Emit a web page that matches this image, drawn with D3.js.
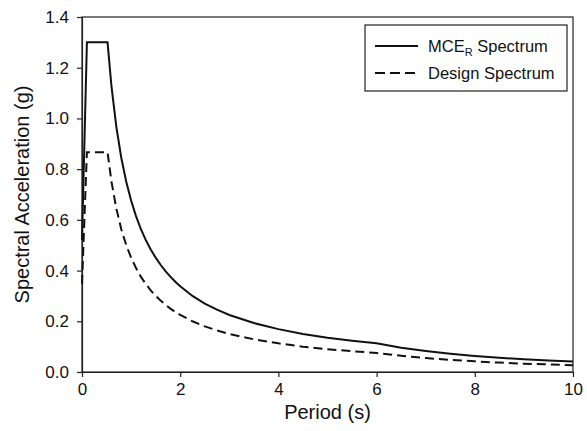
<!DOCTYPE html>
<html>
<head>
<meta charset="utf-8">
<script src="https://cdn.jsdelivr.net/npm/d3@7"></script>
<style>
  html, body { margin: 0; padding: 0; background: #fff; }
  svg { display: block; font-family: "Liberation Sans", Arial, Helvetica, sans-serif; }
</style>
</head>
<body>
<svg id="chart" width="587" height="431"></svg>
<script>
// Period (s)
const periods = [0, 0.1, 0.52, 0.6, 0.7, 0.8, 0.9, 1.0, 1.1, 1.2, 1.3, 1.4, 1.5, 1.6, 1.7, 1.8, 1.9, 2.0,
  2.25, 2.5, 2.75, 3.0, 3.5, 4.0, 4.5, 5.0, 5.5, 6.0, 6.5, 7.0, 7.5, 8.0, 8.5, 9.0, 9.5, 10];
// MCE_R spectrum (g)
const mceValues = [0.52, 1.30, 1.30, 1.127, 0.966, 0.845, 0.751, 0.676, 0.615, 0.563, 0.520, 0.483, 0.451, 0.423, 0.398, 0.376, 0.356, 0.338,
  0.300, 0.270, 0.246, 0.225, 0.193, 0.169, 0.150, 0.135, 0.123, 0.113, 0.096, 0.083, 0.072, 0.063, 0.056, 0.050, 0.045, 0.041];
// Design spectrum (g)
const designValues = [0.347, 0.867, 0.867, 0.751, 0.644, 0.563, 0.501, 0.451, 0.410, 0.375, 0.347, 0.322, 0.300, 0.282, 0.265, 0.250, 0.237, 0.225,
  0.200, 0.180, 0.164, 0.150, 0.129, 0.113, 0.100, 0.090, 0.082, 0.075, 0.064, 0.055, 0.048, 0.042, 0.037, 0.033, 0.030, 0.027];

const xTicks = [0, 2, 4, 6, 8, 10];
const yTicks = [0.0, 0.2, 0.4, 0.6, 0.8, 1.0, 1.2, 1.4];
const seriesNames = ["MCE", "Design Spectrum"];

const svg = d3.select("#chart");
const m = { left: 82, right: 573, top: 17, bottom: 372 };

const x = d3.scaleLinear().domain([0, 10]).range([m.left, m.right]);
const y = d3.scaleLinear().domain([0, 1.4]).range([m.bottom, m.top]);

const ink = "#222";

// frame
svg.append("rect")
  .attr("x", m.left).attr("y", m.top)
  .attr("width", m.right - m.left).attr("height", m.bottom - m.top)
  .attr("fill", "none").attr("stroke", ink).attr("stroke-width", 1.2);

// axes
const xAxis = svg.append("g").attr("transform", `translate(0,${m.bottom})`)
  .call(d3.axisBottom(x).tickValues(xTicks).tickFormat(d3.format("d")).tickSizeInner(5).tickSizeOuter(0).tickPadding(6));
const yAxis = svg.append("g").attr("transform", `translate(${m.left},0)`)
  .call(d3.axisLeft(y).tickValues(yTicks).tickFormat(d3.format(".1f")).tickSizeInner(5).tickSizeOuter(0).tickPadding(8));

[xAxis, yAxis].forEach(g => {
  g.select(".domain").attr("stroke", ink).attr("stroke-width", 1.2);
  g.selectAll(".tick line").attr("stroke", ink).attr("stroke-width", 1.2);
  g.selectAll(".tick text").attr("fill", "#111").style("font-size", "17px");
});

// axis titles
svg.append("text")
  .attr("x", (m.left + m.right) / 2).attr("y", 419)
  .attr("text-anchor", "middle").style("font-size", "20px").attr("fill", "#111")
  .text("Period (s)");
svg.append("text")
  .attr("transform", `translate(29,${(m.top + m.bottom) / 2}) rotate(-90)`)
  .attr("text-anchor", "middle").style("font-size", "20px").attr("fill", "#111")
  .text("Spectral Acceleration (g)");

// lines
const line = vals => d3.line().x((d, i) => x(periods[i])).y((d) => y(d))(vals);

svg.append("path").attr("d", line(mceValues))
  .attr("fill", "none").attr("stroke", "#111").attr("stroke-width", 2);
svg.append("path").attr("d", line(designValues))
  .attr("fill", "none").attr("stroke", "#111").attr("stroke-width", 2)
  .attr("stroke-dasharray", "9,5");

// legend
const lg = svg.append("g");
lg.append("rect").attr("x", 365).attr("y", 25).attr("width", 202).attr("height", 66)
  .attr("fill", "#fff").attr("stroke", ink).attr("stroke-width", 1.2);
const rows = [46, 73];
lg.append("line").attr("x1", 375).attr("x2", 418).attr("y1", rows[0]).attr("y2", rows[0])
  .attr("stroke", "#111").attr("stroke-width", 2);
lg.append("line").attr("x1", 375).attr("x2", 418).attr("y1", rows[1]).attr("y2", rows[1])
  .attr("stroke", "#111").attr("stroke-width", 2).attr("stroke-dasharray", "10,5");
const t1 = lg.append("text").attr("x", 428).attr("y", rows[0] + 6).style("font-size", "16.5px").attr("fill", "#111");
t1.append("tspan").text(seriesNames[0]);
t1.append("tspan").attr("dy", 4).style("font-size", "11px").text("R");
t1.append("tspan").attr("dy", -4).text(" Spectrum");
lg.append("text").attr("x", 428).attr("y", rows[1] + 6).style("font-size", "16.5px").attr("fill", "#111")
  .text(seriesNames[1]);
</script>
</body>
</html>
